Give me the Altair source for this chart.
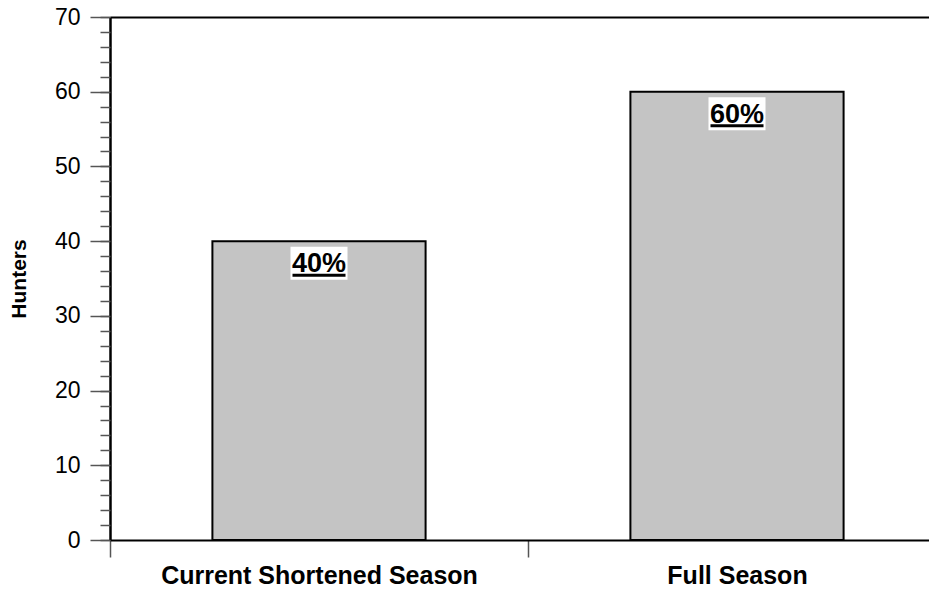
import altair as alt
import pandas as pd

categories = ["Current Shortened Season", "Full Season"]
hunters = [40, 60]
labels = ["40%", "60%"]
major_ticks = [0, 10, 20, 30, 40, 50, 60, 70]
minor_ticks = list(range(0, 71, 2))

df = pd.DataFrame({"season": categories, "hunters": hunters, "label": labels})

W, H = 819, 523
FONT = "Liberation Sans"
xscale = alt.Scale(domain=categories, paddingInner=0, paddingOuter=0, range=[0, 836])
yscale = alt.Scale(domain=[0, 70], nice=False, zero=True)

base = alt.Chart(df)

x_main = alt.X(
    "season:N", scale=xscale, sort=categories, title=None,
    axis=alt.Axis(orient="bottom", labelAngle=0, tickBand="extent", tickSize=17,
                  tickColor="#555555", tickWidth=1.5, domainColor="black", domainWidth=2,
                  labelFont=FONT, labelFontWeight="bold", labelFontSize=25, labelLimit=1000,
                  labelColor="black", labelPadding=6, grid=False),
)
y_main = alt.Y(
    "hunters:Q", scale=yscale, title="Hunters",
    axis=alt.Axis(orient="left", values=major_ticks, tickSize=20, tickColor="#555555",
                  tickWidth=1.5, domainColor="black", domainWidth=2.5,
                  labelFont=FONT, labelFontSize=23, labelColor="black", labelPadding=10,
                  titleFont=FONT, titleFontWeight="bold", titleFontSize=21,
                  titleColor="black", titlePadding=25, grid=False),
)

bars = base.mark_bar(
    width=alt.RelativeBandSize(0.51), fill="#c4c4c4", stroke="black", strokeWidth=2
).encode(x=x_main, y=y_main)

minor = base.mark_point(opacity=0).encode(
    x=alt.X("season:N", scale=xscale, sort=categories, title=None,
            axis=alt.Axis(orient="top", labels=False, ticks=False, domain=True,
                          domainColor="black", domainWidth=2, grid=False, title=None)),
    y=alt.Y("hunters:Q", scale=yscale, title=None,
            axis=alt.Axis(orient="left", values=minor_ticks, tickSize=10,
                          tickColor="#555555", tickWidth=1.5, labels=False,
                          domain=False, grid=False, title=None)),
)

xs = alt.X("season:N", scale=xscale, sort=categories, axis=None)
ys = alt.Y("hunters:Q", scale=yscale, axis=None)

label_bg = base.mark_tick(color="white", size=57, thickness=33, yOffset=22, opacity=1).encode(x=xs, y=ys)
underline = base.mark_tick(color="black", size=53, thickness=3, yOffset=34, opacity=1).encode(x=xs, y=ys)
text = base.mark_text(font=FONT, fontWeight="bold", fontSize=27, color="black",
                      baseline="alphabetic", align="center", yOffset=31).encode(
    x=xs, y=ys, text="label:N")

chart = alt.layer(bars, minor, label_bg, underline, text).resolve_axis(
    x="independent", y="independent"
).properties(
    width=W, height=H,
    autosize=alt.AutoSizeParams(type="none"),
    padding={"left": 102, "top": 9, "right": 0, "bottom": 46},
).configure_view(stroke=None).configure(background="white")

chart.save("out.html", embed_options={"renderer": "svg", "actions": False})
